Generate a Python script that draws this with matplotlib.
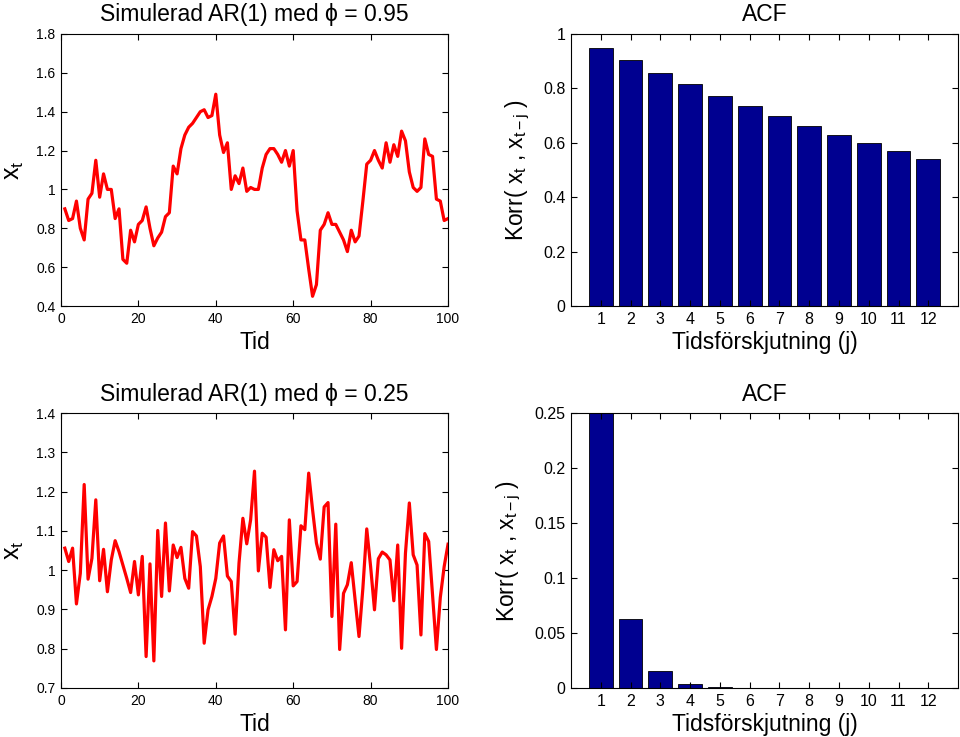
import numpy as np
import matplotlib
matplotlib.use("Agg")
from matplotlib import pyplot as plt
from matplotlib.ticker import FuncFormatter

plt.rcParams['font.family'] = ['Liberation Sans', 'DejaVu Sans']
plt.rcParams['mathtext.fontset'] = 'custom'
plt.rcParams['mathtext.rm'] = 'Liberation Sans'
plt.rcParams['mathtext.it'] = 'Liberation Sans'

# Simulerade serier (avlasta fran bilden), tid 1..100
tid = np.arange(1, 101)

x_095 = [0.90, 0.84, 0.85, 0.94, 0.80, 0.74, 0.95, 0.98, 1.15, 0.96,
         1.08, 1.00, 1.00, 0.85, 0.90, 0.64, 0.62, 0.79, 0.73, 0.82,
         0.84, 0.91, 0.80, 0.71, 0.75, 0.78, 0.86, 0.88, 1.12, 1.08,
         1.21, 1.28, 1.32, 1.34, 1.37, 1.40, 1.41, 1.37, 1.38, 1.49,
         1.28, 1.19, 1.24, 1.00, 1.07, 1.03, 1.11, 0.99, 1.01, 1.00,
         1.00, 1.11, 1.18, 1.21, 1.21, 1.18, 1.14, 1.20, 1.12, 1.20,
         0.89, 0.74, 0.74, 0.59, 0.45, 0.51, 0.79, 0.82, 0.88, 0.82,
         0.82, 0.78, 0.74, 0.68, 0.79, 0.73, 0.76, 0.94, 1.13, 1.15,
         1.20, 1.15, 1.11, 1.24, 1.14, 1.23, 1.17, 1.30, 1.25, 1.09,
         1.01, 0.99, 1.01, 1.26, 1.18, 1.17, 0.95, 0.94, 0.84, 0.85]

x_025 = [1.056, 1.022, 1.056, 0.914, 0.992, 1.218, 0.977, 1.030, 1.179, 0.973,
         1.053, 0.945, 1.026, 1.075, 1.047, 1.013, 0.979, 0.943, 1.022, 0.937,
         1.035, 0.780, 1.016, 0.769, 1.101, 0.933, 1.120, 0.947, 1.064, 1.032,
         1.058, 0.979, 0.954, 1.098, 1.087, 1.009, 0.814, 0.899, 0.933, 0.979,
         1.069, 1.087, 0.985, 0.971, 0.837, 1.018, 1.132, 1.067, 1.128, 1.252,
         0.998, 1.094, 1.084, 0.956, 1.052, 1.024, 1.035, 0.848, 1.128, 0.960,
         0.971, 1.113, 1.103, 1.247, 1.154, 1.069, 1.028, 1.161, 1.172, 0.882,
         1.117, 0.798, 0.941, 0.963, 1.019, 0.924, 0.831, 0.954, 1.105, 1.009,
         0.899, 1.029, 1.046, 1.039, 1.026, 0.922, 1.064, 0.801, 1.043, 1.171,
         1.039, 1.013, 0.835, 1.093, 1.073, 0.937, 0.798, 0.930, 1.009, 1.066]

# Teoretisk ACF
lag = np.arange(1, 13)
acf_095 = [0.95, 0.9025, 0.8574, 0.8145, 0.7738, 0.7351,
           0.6983, 0.6634, 0.6302, 0.5987, 0.5688, 0.5404]
acf_025 = [0.25, 0.0625, 0.015625, 0.003906, 0.000977, 0.000244,
           0.000061, 0.000015, 0.0000038, 0.00000095, 0.00000024, 0.00000006]

fmt = FuncFormatter(lambda v, p: '%g' % round(v, 4))
stapelfarg = '#000090'


def stil(ax, tickstorlek):
    ax.tick_params(direction='in', top=True, right=True, length=4,
                   labelsize=tickstorlek, width=0.8, pad=4)
    for s in ax.spines.values():
        s.set_linewidth(0.8)
    ax.yaxis.set_major_formatter(fmt)


def serie(ax, y, ylim, yticks, titel):
    ax.plot(tid, y, color='#ff0000', lw=2.3)
    ax.set_xlim(0, 100)
    ax.set_ylim(*ylim)
    ax.set_xticks(np.arange(0, 101, 20))
    ax.set_yticks(yticks)
    stil(ax, 10)
    ax.set_title(titel, fontsize=16.5, pad=9)
    ax.set_xlabel('Tid', fontsize=16.5, labelpad=4)
    ax.set_ylabel('$x_t$', fontsize=18, labelpad=7)


def acf(ax, y, ylim, yticks):
    ax.bar(lag, y, width=0.8, color=stapelfarg, edgecolor='black', linewidth=0.6)
    ax.set_xlim(0, 13)
    ax.set_ylim(*ylim)
    ax.set_xticks(lag)
    ax.set_yticks(yticks)
    stil(ax, 11.5)
    ax.set_title('ACF', fontsize=16.5, pad=9)
    ax.set_xlabel('Tidsförskjutning (j)', fontsize=16.5, labelpad=3)
    ax.set_ylabel('Korr( $x_t$ , $x_{t-j}$ )', fontsize=16.5, labelpad=8)


fig = plt.figure(figsize=(9.6, 7.37), dpi=100)
ax1 = fig.add_axes([0.0635, 0.5848, 0.4032, 0.3691])
ax2 = fig.add_axes([0.5948, 0.5848, 0.4032, 0.3691])
ax3 = fig.add_axes([0.0635, 0.0665, 0.4032, 0.3731])
ax4 = fig.add_axes([0.5948, 0.0665, 0.4032, 0.3731])

serie(ax1, x_095, (0.4, 1.8), np.arange(0.4, 1.81, 0.2), 'Simulerad AR(1) med ϕ = 0.95')
acf(ax2, acf_095, (0, 1), np.arange(0, 1.01, 0.2))
serie(ax3, x_025, (0.7, 1.4), np.arange(0.7, 1.41, 0.1), 'Simulerad AR(1) med ϕ = 0.25')
acf(ax4, acf_025, (0, 0.25), np.arange(0, 0.251, 0.05))

fig.savefig('out.png', dpi=100)
